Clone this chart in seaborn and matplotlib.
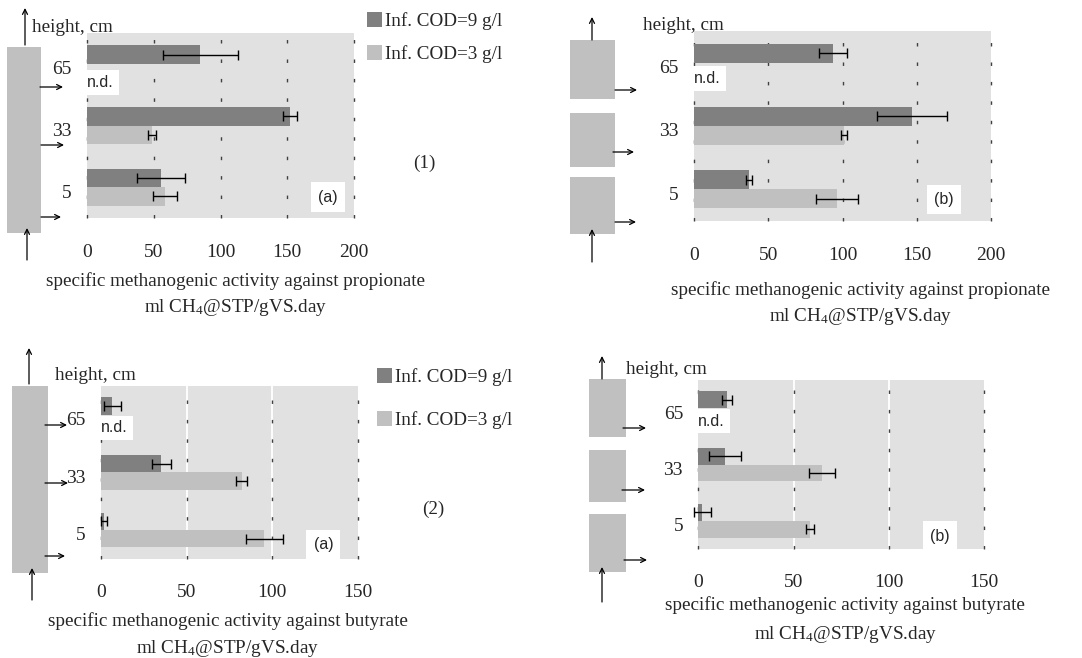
import numpy as np
import pandas as pd
import matplotlib
matplotlib.use("Agg")
import matplotlib.pyplot as plt
import seaborn as sns
from matplotlib.patches import Rectangle, FancyArrowPatch, Patch
from matplotlib.transforms import ScaledTranslation

# ---------------- data ----------------
heights = ["65", "33", "5"]
series = ["Inf. COD=9 g/l", "Inf. COD=3 g/l"]

prop_a_cod9 = [85.0, 152.0, 55.7]
prop_a_cod9_err = [28.0, 5.0, 18.0]
prop_a_cod3 = [np.nan, 49.0, 58.4]
prop_a_cod3_err = [np.nan, 3.0, 9.0]

prop_b_cod9 = [93.7, 146.7, 37.3]
prop_b_cod9_err = [9.5, 23.5, 2.0]
prop_b_cod3 = [np.nan, 100.9, 96.4]
prop_b_cod3_err = [np.nan, 2.0, 14.0]

but_a_cod9 = [6.6, 35.3, 1.6]
but_a_cod9_err = [5.0, 5.5, 1.8]
but_a_cod3 = [np.nan, 82.2, 95.3]
but_a_cod3_err = [np.nan, 3.3, 10.8]

but_b_cod9 = [15.0, 14.0, 2.1]
but_b_cod9_err = [2.5, 8.4, 4.5]
but_b_cod3 = [np.nan, 64.9, 58.7]
but_b_cod3_err = [np.nan, 6.6, 2.0]

prop_ticks = [0, 50, 100, 150, 200]
but_ticks = [0, 50, 100, 150]

# ---------------- style ----------------
sns.set_style("white")
plt.rcParams["font.family"] = ["Liberation Serif", "DejaVu Serif"]
plt.rcParams["mathtext.fontset"] = "custom"
plt.rcParams["mathtext.rm"] = "Liberation Serif"
plt.rcParams["mathtext.it"] = "Liberation Serif:italic"

DARK = "#808080"
LIGHT = "#c0c0c0"
BG = "#e1e1e1"
W, H = 1082, 658
TXT = 13.8

fig = plt.figure(figsize=(W / 100, H / 100), dpi=100)
fig.patch.set_facecolor("white")


def P(x, y):
    return (x / W, 1 - y / H)


def add_axes(l, t, r, b):
    return fig.add_axes([l / W, 1 - b / H, (r - l) / W, (b - t) / H])


def make_df(c9, c3, e9, e3):
    rows = []
    for h, v, e in zip(heights, c9, e9):
        rows.append((h, series[0], v, e))
    for h, v, e in zip(heights, c3, e3):
        rows.append((h, series[1], v, e))
    return pd.DataFrame(rows, columns=["height", "cod", "value", "err"])


def panel(box, df, ticks, white_grid, xlabel, label_xy, nd_y, tag, tag_xy,
          tick_pad, lspace):
    ax = add_axes(*box)
    ax.set_facecolor(BG)
    sns.barplot(data=df.dropna(subset=["value"]), y="height", x="value",
                hue="cod", order=heights, hue_order=series,
                palette=[DARK, LIGHT], width=0.6, orient="h", ax=ax,
                legend=False, saturation=1, errorbar=None, linewidth=0)
    ax.set_xlim(ticks[0], ticks[-1])
    ax.set_ylim(2.5, -0.5)
    # grid lines
    for t in ticks:
        if white_grid and 0 < t < ticks[-1]:
            ax.axvline(t, color="white", lw=1.3, zorder=0.5)
        ax.axvline(t, color="#404040", lw=1.0, ls=(0, (2.5, 11.5)),
                   zorder=0.6, clip_on=False)
    # error bars, located from the bars drawn by seaborn
    for p in ax.patches:
        w = p.get_width()
        h = p.get_height()
        if not np.isfinite(w) or h <= 0:
            continue
        yc = p.get_y() + h / 2
        idx = int(round(yc))
        s = series[0] if yc < idx else series[1]
        row = df[(df["height"] == heights[idx]) & (df["cod"] == s)]
        e = float(row["err"].iloc[0])
        ax.errorbar(w, yc, xerr=e, fmt="none", ecolor="black", elinewidth=1,
                    capsize=3.5, capthick=1, zorder=3, clip_on=False)
    for sp in ax.spines.values():
        sp.set_visible(False)
    ax.set_xticks(ticks)
    ax.set_xticklabels([str(t) for t in ticks])
    ax.tick_params(axis="x", length=0, pad=tick_pad, labelsize=14)
    ax.tick_params(axis="y", length=0, pad=11, labelsize=14)
    off = ScaledTranslation(0, -4 / 100, fig.dpi_scale_trans)
    for lab in ax.get_yticklabels():
        lab.set_transform(lab.get_transform() + off)
    ax.set_ylabel("")
    ax.set_xlabel(xlabel, fontsize=TXT, linespacing=lspace)
    ax.xaxis.set_label_coords(*label_xy)
    # n.d. and panel tag
    ax.text(0, nd_y, "n.d.", family=["Liberation Sans"], fontsize=11.5,
            ha="left", va="center", zorder=4,
            bbox=dict(facecolor="white", edgecolor="none",
                      boxstyle="square,pad=0.3"))
    ax.text(tag_xy[0], tag_xy[1], tag, family=["Liberation Sans"],
            fontsize=11.5, ha="center", va="center", zorder=4,
            bbox=dict(facecolor="white", edgecolor="none",
                      boxstyle="square,pad=0.45"))
    return ax


prop_label = ("specific methanogenic activity against propionate\n"
              "ml CH$_\\mathrm{4}$@STP/gVS.day")
but_label = ("specific methanogenic activity against butyrate\n"
             "ml CH$_\\mathrm{4}$@STP/gVS.day")

ax1a = panel((87, 33, 354, 218),
             make_df(prop_a_cod9, prop_a_cod3, prop_a_cod9_err, prop_a_cod3_err),
             prop_ticks, False, prop_label, (0.555, -0.29), 0.3, "(a)",
             (180.5, 2.16), 19, 1.5)
ax1b = panel((694, 31, 991, 220.7),
             make_df(prop_b_cod9, prop_b_cod3, prop_b_cod9_err, prop_b_cod3_err),
             prop_ticks, False, prop_label, (0.559, -0.318), 0.25, "(b)",
             (168.5, 2.16), 19, 1.5)
ax2a = panel((101, 385.7, 357.7, 558.7),
             make_df(but_a_cod9, but_a_cod3, but_a_cod9_err, but_a_cod3_err),
             but_ticks, True, but_label, (0.494, -0.31), 0.23, "(a)",
             (130.0, 2.26), 18, 1.5)
ax2b = panel((698.3, 380, 984.3, 549),
             make_df(but_b_cod9, but_b_cod3, but_b_cod9_err, but_b_cod3_err),
             but_ticks, True, but_label, (0.514, -0.278), 0.23, "(b)",
             (126.7, 2.27), 18, 1.65)

# legends
handles = [Patch(facecolor=DARK, edgecolor="none"),
           Patch(facecolor=LIGHT, edgecolor="none")]
for ax, (lx, ly), sp in [(ax1a, (367, 12), 0.8), (ax2a, (377, 368), 1.3)]:
    ax.legend(handles, series, loc="upper left",
              bbox_to_anchor=P(lx, ly), bbox_transform=fig.transFigure,
              frameon=False, fontsize=TXT, handlelength=0.8,
              handleheight=0.8, handletextpad=0.15, labelspacing=sp,
              borderpad=0, borderaxespad=0)

# ---------------- decorations: reactor sketches ----------------
def rect(x0, y0, x1, y1):
    fig.patches.append(Rectangle(P(x0, y1), (x1 - x0) / W, (y1 - y0) / H,
                                 transform=fig.transFigure,
                                 facecolor=LIGHT, edgecolor="none"))


def arrow(x0, y0, x1, y1):
    fig.patches.append(FancyArrowPatch(P(x0, y0), P(x1, y1),
                                       transform=fig.transFigure,
                                       arrowstyle="->", mutation_scale=9,
                                       lw=0.9, color="black",
                                       shrinkA=0, shrinkB=0))


def ftext(x, y, s, **kw):
    fig.text(*P(x, y), s, fontsize=TXT, va="center", **kw)


# panel 1a
rect(7, 47, 41, 233)
arrow(25, 45, 25, 8)
arrow(27, 260, 27, 228)
arrow(40, 87, 63, 87)
arrow(41, 145, 64, 145)
arrow(41, 217, 61, 217)
ftext(32, 27, "height, cm", ha="left")
ftext(424, 163, "(1)", ha="center")

# panel 1b
rect(570, 40, 615, 99)
rect(570, 113, 615, 167)
rect(570, 177, 615, 234)
arrow(592, 40, 592, 17)
arrow(592, 262, 592, 229)
arrow(615, 90, 637, 90)
arrow(613, 152, 634, 152)
arrow(615, 222, 636, 222)
ftext(643, 26, "height, cm", ha="left")

# panel 2a
rect(12, 386, 48, 573)
arrow(29, 384, 29, 348)
arrow(32, 600, 32, 568)
arrow(45, 425, 67, 425)
arrow(45, 483, 68, 483)
arrow(45, 556, 65, 556)
ftext(55, 376, "height, cm", ha="left")
ftext(433, 509, "(2)", ha="center")

# panel 2b
rect(589, 379, 626, 437)
rect(589, 450, 626, 502)
rect(589, 514, 626, 572)
arrow(602, 379, 602, 356)
arrow(602, 602, 602, 567)
arrow(623, 428, 646, 428)
arrow(622, 490, 645, 490)
arrow(624, 560, 647, 560)
ftext(626, 369, "height, cm", ha="left")

fig.savefig("out.png", dpi=100, facecolor="white")
